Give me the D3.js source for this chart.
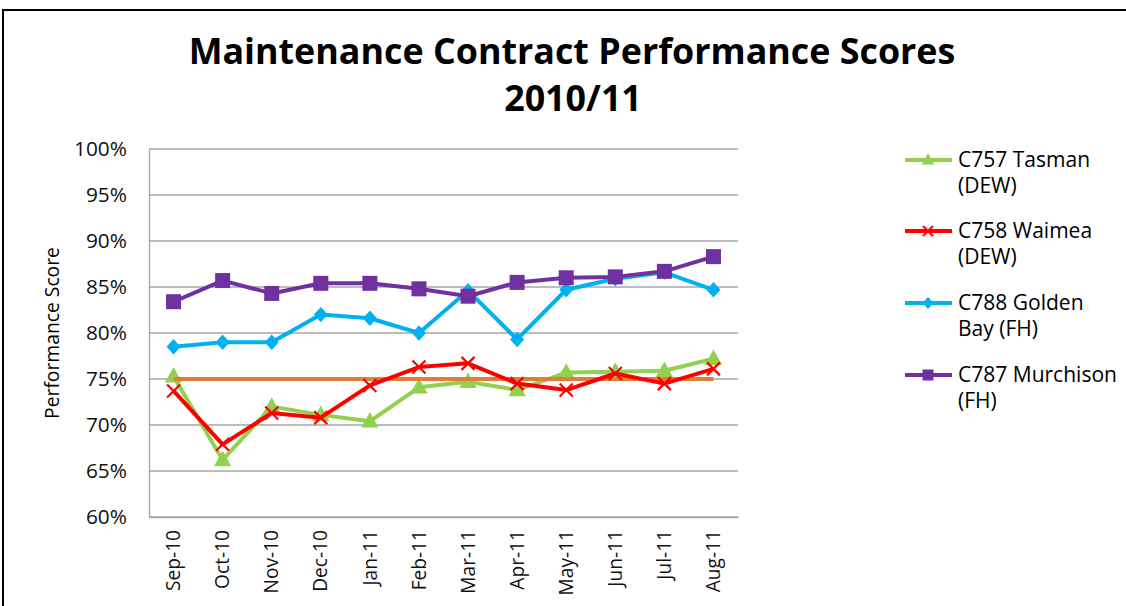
<!DOCTYPE html>
<html>
<head>
<meta charset="utf-8">
<script src="https://cdn.jsdelivr.net/npm/d3@7"></script>
<style>
  html, body { margin: 0; padding: 0; background: #fff; }
  svg { display: block; }
  text { font-family: "Open Sans", Lato, sans-serif; }
</style>
</head>
<body>
<svg id="chart" width="1126" height="606"></svg>
<script>
// ---- data ----
const months = ['Sep-10', 'Oct-10', 'Nov-10', 'Dec-10', 'Jan-11', 'Feb-11',
                'Mar-11', 'Apr-11', 'May-11', 'Jun-11', 'Jul-11', 'Aug-11'];
const tasman     = [75.3, 66.2, 72.0, 71.1, 70.4, 74.1, 74.7, 73.8, 75.7, 75.8, 75.9, 77.2];
const waimea     = [73.7, 67.9, 71.3, 70.8, 74.3, 76.3, 76.7, 74.5, 73.8, 75.6, 74.5, 76.1];
const goldenBay  = [78.5, 79.0, 79.0, 82.0, 81.6, 80.0, 84.6, 79.3, 84.7, 85.9, 86.6, 84.7];
const murchison  = [83.4, 85.7, 84.3, 85.4, 85.4, 84.8, 84.0, 85.5, 86.0, 86.1, 86.7, 88.3];
const target     = 75;
const yTicks     = [60, 65, 70, 75, 80, 85, 90, 95, 100];

const seriesNames = [['C757 Tasman', '(DEW)'], ['C758 Waimea', '(DEW)'],
                     ['C788 Golden', 'Bay (FH)'], ['C787 Murchison', '(FH)']];

const series = [
  { name: seriesNames[0], values: tasman,    color: '#92D050', marker: 'triangle' },
  { name: seriesNames[1], values: waimea,    color: '#FF0000', marker: 'cross' },
  { name: seriesNames[2], values: goldenBay, color: '#00B0F0', marker: 'diamond' },
  { name: seriesNames[3], values: murchison, color: '#7030A0', marker: 'square' }
];

const svg = d3.select('#chart');

// scale a text's font-size so it spans the given width
function fitWidth(sel, width) {
  const node = sel.node();
  const fs = parseFloat(sel.attr('font-size'));
  const w = node.getComputedTextLength();
  const nfs = fs * width / w;
  sel.attr('font-size', nfs);
  return nfs;
}

// outer chart border
svg.append('rect')
  .attr('x', 3).attr('y', 10)
  .attr('width', 1140).attr('height', 700)
  .attr('fill', 'none')
  .attr('stroke', '#000')
  .attr('stroke-width', 2);

// title
const title1 = svg.append('text')
  .attr('x', 572).attr('y', 64).attr('text-anchor', 'middle')
  .attr('font-size', 34).attr('font-weight', 'bold').attr('fill', '#000')
  .text('Maintenance Contract Performance Scores');
const titleSize = fitWidth(title1, 767);
svg.append('text')
  .attr('x', 573).attr('y', 111).attr('text-anchor', 'middle')
  .attr('font-size', titleSize).attr('font-weight', 'bold').attr('fill', '#000')
  .text('2010/11');

// plot area
const plot = { left: 149, right: 738, top: 149, bottom: 517 };

const x = d3.scaleBand()
  .domain(months)
  .range([plot.left, plot.right]);

const y = d3.scaleLinear()
  .domain([60, 100])
  .range([plot.bottom, plot.top]);

const cx = m => x(m) + x.bandwidth() / 2;

// gridlines
svg.append('g')
  .selectAll('line')
  .data(yTicks)
  .join('line')
  .attr('x1', plot.left).attr('x2', plot.right)
  .attr('y1', d => y(d)).attr('y2', d => y(d))
  .attr('stroke', '#a6a6a6')
  .attr('stroke-width', 1.3);

// y axis
const yAxis = svg.append('g')
  .attr('transform', `translate(${plot.left},0)`)
  .call(d3.axisLeft(y).tickValues(yTicks).tickFormat(d => d + '%').tickSize(0).tickPadding(22));
yAxis.select('.domain').attr('stroke', '#a6a6a6').attr('stroke-width', 1.3);
const yLabels = yAxis.selectAll('text').attr('font-size', 17).attr('fill', '#111');
const yLabelSize = fitWidth(yLabels.filter(d => d === 100), 53);
yLabels.attr('font-size', yLabelSize);

// x axis
const xAxis = svg.append('g')
  .attr('transform', `translate(0,${plot.bottom})`)
  .call(d3.axisBottom(x).tickSize(0));
xAxis.select('.domain').attr('stroke', '#a6a6a6').attr('stroke-width', 1.3);
const xLabels = xAxis.selectAll('text')
  .attr('font-size', 17)
  .attr('fill', '#111')
  .attr('transform', 'rotate(-90)')
  .attr('text-anchor', 'end')
  .attr('dy', '0.35em')
  .attr('x', -13)
  .attr('y', 0);
const xLabelSize = fitWidth(xLabels.filter(d => d === 'Sep-10'), 61);
xLabels.attr('font-size', xLabelSize);

// y axis title
const yTitle = svg.append('text')
  .attr('transform', 'translate(59,333) rotate(-90)')
  .attr('text-anchor', 'middle')
  .attr('font-size', 16)
  .attr('fill', '#000')
  .text('Performance Score');
fitWidth(yTitle, 172);

// marker drawing
function drawMarker(g, type, color, size) {
  const s = size;
  if (type === 'triangle') {
    g.append('path')
      .attr('d', `M0,${-s * 0.62}L${s * 0.58},${s * 0.42}L${-s * 0.58},${s * 0.42}Z`)
      .attr('fill', color);
  } else if (type === 'square') {
    g.append('rect')
      .attr('x', -s / 2).attr('y', -s / 2)
      .attr('width', s).attr('height', s)
      .attr('fill', color);
  } else if (type === 'diamond') {
    g.append('path')
      .attr('d', `M0,${-s * 0.55}L${s * 0.5},0L0,${s * 0.55}L${-s * 0.5},0Z`)
      .attr('fill', color);
  } else if (type === 'cross') {
    const h = s / 2;
    g.append('path')
      .attr('d', `M${-h},${-h}L${h},${h}M${-h},${h}L${h},${-h}`)
      .attr('stroke', color)
      .attr('stroke-width', 2.2)
      .attr('fill', 'none');
  }
}

const line = d3.line()
  .x((d, i) => cx(months[i]))
  .y(d => y(d));

const markerSize = { triangle: 15, square: 15, diamond: 14, cross: 13 };

function drawSeries(s) {
  const g = svg.append('g');
  g.append('path')
    .datum(s.values)
    .attr('d', line)
    .attr('fill', 'none')
    .attr('stroke', s.color)
    .attr('stroke-width', 4)
    .attr('stroke-linejoin', 'round');
  s.values.forEach((v, i) => {
    const m = g.append('g').attr('transform', `translate(${cx(months[i])},${y(v)})`);
    drawMarker(m, s.marker, s.color, markerSize[s.marker]);
  });
}

drawSeries(series[0]);

// target line (75%)
svg.append('line')
  .attr('x1', cx(months[0])).attr('x2', cx(months[months.length - 1]))
  .attr('y1', y(target)).attr('y2', y(target))
  .attr('stroke', '#DE7E3A')
  .attr('stroke-width', 4);

drawSeries(series[1]);
drawSeries(series[2]);
drawSeries(series[3]);

// legend
const legend = svg.append('g');
const legendY = [160, 231, 303, 375];
let legendSize = 18;
series.forEach((s, i) => {
  const g = legend.append('g').attr('transform', `translate(0,${legendY[i]})`);
  g.append('line')
    .attr('x1', 905).attr('x2', 952)
    .attr('y1', 0).attr('y2', 0)
    .attr('stroke', s.color)
    .attr('stroke-width', 4);
  const m = g.append('g').attr('transform', 'translate(928,0)');
  drawMarker(m, s.marker, s.color, s.marker === 'cross' ? 10 : 11);
  const t1 = g.append('text')
    .attr('x', 958).attr('y', 6.5)
    .attr('font-size', legendSize).attr('fill', '#000')
    .text(s.name[0]);
  if (i === 3) {
    legendSize = fitWidth(t1, 159);
  }
  g.append('text')
    .attr('x', 958).attr('y', 33)
    .attr('font-size', legendSize).attr('fill', '#000')
    .text(s.name[1]);
});
legend.selectAll('text').attr('font-size', legendSize);
</script>
</body>
</html>
